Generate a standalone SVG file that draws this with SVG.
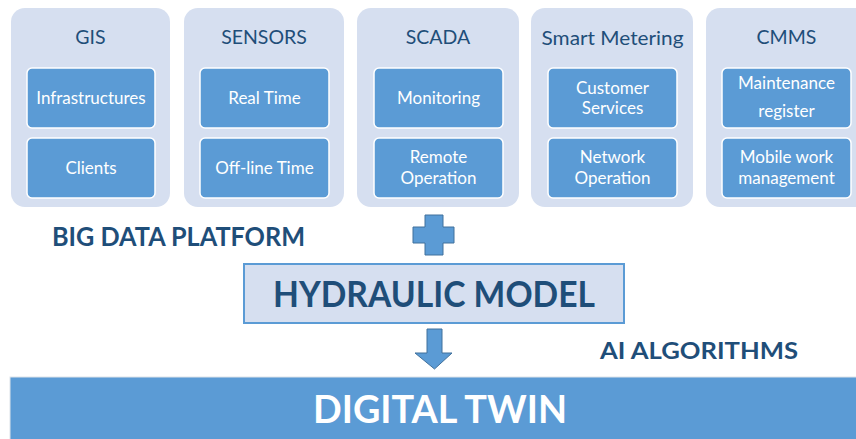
<svg xmlns="http://www.w3.org/2000/svg" width="856" height="439" viewBox="0 0 856 439">
<defs>
<style>
.panel{fill:#d6dff0;}
.inner{fill:#5b9bd5;stroke:#ffffff;stroke-width:1.5;}
.title{font-family:Lato,"Open Sans","Liberation Sans",sans-serif;font-size:19.5px;fill:#1f4e79;text-anchor:middle;}
.itxt{font-family:Lato,"Open Sans","Liberation Sans",sans-serif;font-size:17px;fill:#ffffff;text-anchor:middle;}
.big{font-family:Lato,"Open Sans","Liberation Sans",sans-serif;font-weight:bold;fill:#1f4e79;}
.shape{fill:#5b9bd5;stroke:#41719c;stroke-width:1;}
</style>
</defs>
<rect width="856" height="439" fill="#ffffff"/>

<g id="gis">
<rect class="panel" x="11" y="8" width="159" height="199" rx="14"/>
<text class="title" x="90.5" y="44">GIS</text>
<rect class="inner" x="27" y="68" width="128" height="60" rx="5"/>
<text class="itxt" x="91" y="104">Infrastructures</text>
<rect class="inner" x="27" y="138" width="128" height="60" rx="5"/>
<text class="itxt" x="91" y="174">Clients</text>
</g>

<g id="sensors">
<rect class="panel" x="184" y="8" width="160" height="199" rx="14"/>
<text class="title" x="264" y="44">SENSORS</text>
<rect class="inner" x="200" y="68" width="129" height="60" rx="5"/>
<text class="itxt" x="264.5" y="104">Real Time</text>
<rect class="inner" x="200" y="138" width="129" height="60" rx="5"/>
<text class="itxt" x="264.5" y="174">Off-line Time</text>
</g>

<g id="scada">
<rect class="panel" x="357" y="8" width="162" height="199" rx="14"/>
<text class="title" x="438" y="44">SCADA</text>
<rect class="inner" x="374" y="68" width="129" height="60" rx="5"/>
<text class="itxt" x="438.5" y="104">Monitoring</text>
<rect class="inner" x="374" y="138" width="129" height="60" rx="5"/>
<text class="itxt" x="438.5" y="163">Remote</text>
<text class="itxt" x="438.5" y="184">Operation</text>
</g>

<g id="smart-metering">
<rect class="panel" x="531" y="8" width="162" height="199" rx="14"/>
<text class="title" x="612.5" y="45" textLength="142" lengthAdjust="spacingAndGlyphs">Smart Metering</text>
<rect class="inner" x="548" y="68" width="129" height="60" rx="5"/>
<text class="itxt" x="612.5" y="94">Customer</text>
<text class="itxt" x="612.5" y="114">Services</text>
<rect class="inner" x="548" y="138" width="129" height="60" rx="5"/>
<text class="itxt" x="612.5" y="163">Network</text>
<text class="itxt" x="612.5" y="184">Operation</text>
</g>

<g id="cmms">
<rect class="panel" x="706" y="8" width="165" height="199" rx="14"/>
<text class="title" x="786.5" y="44">CMMS</text>
<rect class="inner" x="722" y="68" width="129" height="60" rx="5"/>
<text class="itxt" x="786.5" y="89">Maintenance</text>
<text class="itxt" x="786.5" y="117">register</text>
<rect class="inner" x="722" y="138" width="129" height="60" rx="5"/>
<text class="itxt" x="786.5" y="163">Mobile work</text>
<text class="itxt" x="786.5" y="184">management</text>
</g>

<g id="big-data-platform">
<text class="big" x="52" y="246" font-size="26" textLength="253" lengthAdjust="spacingAndGlyphs">BIG DATA PLATFORM</text>
</g>

<g id="connectors">
<path class="shape" d="M425,215 H443 V227 H454 V243 H443 V255 H425 V243 H413 V227 H425 Z"/>
<path class="shape" d="M427,329 H442 V353 H452 L434.5,369 L415,353 H427 Z"/>
</g>

<g id="hydraulic-model">
<rect x="244" y="264" width="380" height="59" fill="#d6dff0" stroke="#5b9bd5" stroke-width="2"/>
<text class="big" x="273" y="307" font-size="36" textLength="322" lengthAdjust="spacingAndGlyphs">HYDRAULIC MODEL</text>
</g>

<g id="ai-algorithms">
<text class="big" x="600" y="359" font-size="22" textLength="198" lengthAdjust="spacingAndGlyphs">AI ALGORITHMS</text>
</g>

<g id="digital-twin">
<rect x="10" y="377" width="850" height="66" fill="#5b9bd5" stroke="#dde3ea" stroke-width="1"/>
<text x="313" y="423" font-family="Lato,'Open Sans','Liberation Sans',sans-serif" font-weight="bold" font-size="39" fill="#ffffff" textLength="254" lengthAdjust="spacingAndGlyphs">DIGITAL TWIN</text>
</g>
</svg>
